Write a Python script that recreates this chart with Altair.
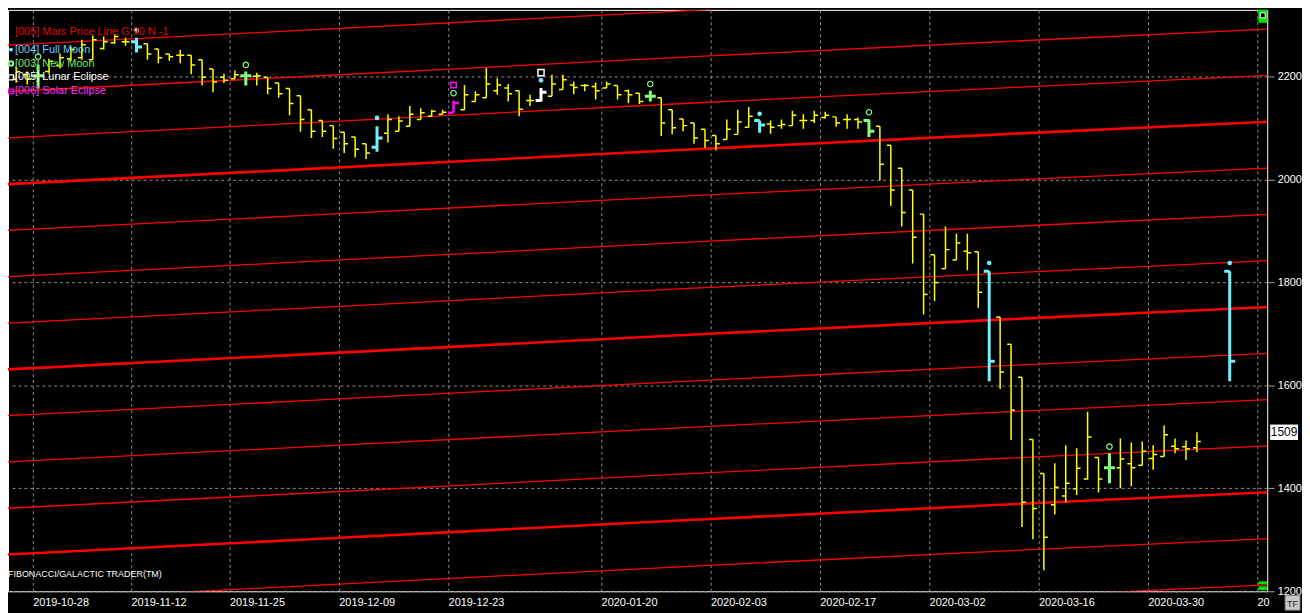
import altair as alt
import pandas as pd

# ---------------- data ----------------
# bar slot index (one slot per trading bar); 112 is the projected full-moon bar
bar_n = list(range(110)) + [112]
opens = [2193, 2195, 2204, 2202, 2210, 2222, 2235, 2237, 2233, 2255,
         2266, 2268, 2268, 2264, 2254, 2244, 2242, 2242, 2233, 2215,
         2199, 2196, 2202, 2201, 2199, 2188, 2177, 2163, 2136, 2115,
         2105, 2092, 2083, 2070, 2063, 2090, 2094, 2104, 2117, 2123,
         2127, 2130, 2136, 2152, 2159, 2173, 2178, 2173, 2154, 2154,
         2162, 2175, 2184, 2183, 2181, 2178, 2183, 2173, 2168, 2162,
         2159, 2136, 2118, 2110, 2098, 2086, 2078, 2088, 2102, 2115,
         2108, 2105, 2105, 2115, 2115, 2121, 2122, 2117, 2117, 2115,
         2104, 2067, 2022, 1980, 1933, 1854, 1827, 1844, 1861, 1860,
         1822, 1733, 1680, 1616, 1495, 1429, 1368, 1385, 1399, 1418,
         1460, 1440, 1440, 1448, 1445, 1458, 1462, 1482, 1481, 1479,
         1822]
highs = [2206, 2220, 2210, 2224, 2235, 2245, 2258, 2272, 2280, 2278,
         2282, 2276, 2276, 2264, 2254, 2244, 2252, 2242, 2233, 2215,
         2206, 2212, 2210, 2208, 2199, 2188, 2177, 2163, 2136, 2115,
         2105, 2092, 2083, 2070, 2104, 2127, 2123, 2143, 2139, 2136,
         2136, 2154, 2184, 2172, 2217, 2197, 2186, 2173, 2165, 2178,
         2204, 2204, 2191, 2186, 2189, 2191, 2183, 2175, 2168, 2173,
         2159, 2136, 2118, 2110, 2098, 2086, 2117, 2136, 2141, 2115,
         2115, 2117, 2134, 2127, 2134, 2132, 2122, 2127, 2121, 2117,
         2104, 2067, 2022, 1980, 1933, 1854, 1909, 1895, 1895, 1860,
         1822, 1733, 1680, 1616, 1495, 1429, 1449, 1484, 1478, 1549,
         1460, 1468, 1497, 1489, 1491, 1484, 1522, 1497, 1493, 1509,
         1822]
lows = [2187, 2189, 2185, 2177, 2206, 2216, 2230, 2233, 2233, 2253,
        2264, 2260, 2247, 2233, 2226, 2231, 2226, 2205, 2183, 2170,
        2188, 2196, 2183, 2183, 2166, 2159, 2125, 2093, 2081, 2083,
        2060, 2052, 2043, 2040, 2054, 2072, 2094, 2104, 2117, 2123,
        2127, 2130, 2136, 2152, 2159, 2165, 2152, 2123, 2143, 2152,
        2162, 2175, 2166, 2172, 2156, 2178, 2156, 2149, 2147, 2152,
        2085, 2088, 2094, 2070, 2062, 2057, 2078, 2088, 2102, 2091,
        2089, 2099, 2105, 2099, 2110, 2119, 2103, 2099, 2099, 2083,
        1999, 1949, 1909, 1837, 1738, 1764, 1827, 1844, 1824, 1751,
        1608, 1593, 1494, 1325, 1301, 1241, 1349, 1373, 1387, 1417,
        1392, 1410, 1400, 1404, 1445, 1436, 1462, 1468, 1455, 1470,
        1608]
closes = [2202, 2210, 2195, 2202, 2230, 2237, 2253, 2262, 2272, 2268,
          2278, 2268, 2258, 2244, 2237, 2239, 2242, 2223, 2199, 2190,
          2193, 2204, 2202, 2202, 2177, 2167, 2148, 2117, 2094, 2094,
          2080, 2070, 2059, 2052, 2081, 2117, 2114, 2127, 2130, 2133,
          2131, 2149, 2165, 2165, 2186, 2184, 2167, 2137, 2154, 2170,
          2186, 2194, 2179, 2183, 2173, 2186, 2165, 2165, 2152, 2162,
          2110, 2101, 2105, 2081, 2076, 2070, 2098, 2112, 2123, 2106,
          2102, 2107, 2125, 2115, 2125, 2125, 2110, 2117, 2112, 2094,
          2030, 1980, 1936, 1888, 1777, 1800, 1864, 1877, 1858, 1781,
          1647, 1626, 1552, 1373, 1361, 1305, 1402, 1410, 1439, 1500,
          1418, 1440, 1457, 1440, 1472, 1466, 1504, 1477, 1477, 1491,
          1647]

full_moon_n = [12, 34, 49, 69, 90, 112]
full_moon_dot = [2290, 2120, 2193, 2128, 1838, 1838]
new_moon_n = [3, 22, 41, 59, 79, 101]
new_moon_ring = [2239, 2223, 2168, 2186, 2131, 1481]
lunar_eclipse_n = [49]
lunar_eclipse_mark = [2208]
solar_eclipse_n = [41]
solar_eclipse_mark = [2184]

# Mars price line (G 90): base line read at a few slots, harmonics every 90 points
mars_n = [-1, 27, 63, 91, 117]
mars_base = [1990, 2020, 2059, 2088, 2114]
mars_harmonics = list(range(-10, 4))

# axis tick labels
x_tick_pos = [2.5, 11.5, 20.5, 30.5, 40.5, 54.5, 64.5, 74.5, 84.5, 94.5, 104.5, 114.5]
x_tick_lab = ["2019-10-28", "2019-11-12", "2019-11-25", "2019-12-09", "2019-12-23",
              "2020-01-20", "2020-02-03", "2020-02-17", "2020-03-02", "2020-03-16",
              "2020-03-30", "20"]
y_ticks = [1200, 1400, 1600, 1800, 2000, 2200]
last_price = [1509]

legend_labels = ["[005] Mars Price Line G 90 N -1", "[004] Full Moon", "[003] New Moon",
                 "[005] Lunar Eclipse", "[006] Solar Eclipse"]
legend_colors = ["#e00000", "#66d4ff", "#6ee66e", "#ffffff", "#ff33ff"]
legend_rows_y = [22, 40, 54, 68, 82]

# ---------------- styling ----------------
YELLOW, CYAN, GREEN, MAGENTA, WHITE = "#ffff00", "#6ff0ff", "#80ff80", "#ff00ff", "#ffffff"
FONT = "Liberation Sans"
W, H = 1267, 585

rows = []
for i, n in enumerate(bar_n):
    if n in lunar_eclipse_n:
        col, w, t = WHITE, 3.0, 0.5
    elif n in solar_eclipse_n:
        col, w, t = MAGENTA, 2.5, 0.5
    elif n in full_moon_n:
        col, w, t = CYAN, 3.0, 0.5
    elif n in new_moon_n:
        col, w, t = GREEN, 3.0, 0.5
    else:
        col, w, t = YELLOW, 1.5, 0.36
    rows.append(dict(n=n, open=opens[i], high=highs[i], low=lows[i], close=closes[i],
                     color=col, w=w, xo=n - t, xc=n + t))
bars = pd.DataFrame(rows)

mrows = []
for k in mars_harmonics:
    for n, b in zip(mars_n, mars_base):
        mrows.append(dict(n=n, price=b + 90 * k, k=k, w=2.6 if k % 4 == 0 else 1.3))
mars = pd.DataFrame(mrows)

xs = alt.Scale(domain=[0.245, 115.43], nice=False, zero=False)
ys = alt.Scale(domain=[1200, 2330], nice=False, zero=False)

label_expr = "[" + ",".join("'%s'" % s for s in x_tick_lab) + "][indexof([" + \
    ",".join(str(v) for v in x_tick_pos) + "], datum.value)]"

xaxis = alt.Axis(values=x_tick_pos, labelExpr=label_expr, grid=True, gridColor="#8c8c8c",
                 gridDash=[3, 3], gridWidth=1, ticks=False, domain=False, labelColor="white",
                 labelAlign="left", labelFlush=False, labelFont=FONT, labelFontSize=11,
                 labelPadding=5, labelOverlap=False, title=None)
yaxis = alt.Axis(orient="right", values=y_ticks, grid=True, gridColor="#8c8c8c",
                 gridDash=[3, 3], gridWidth=1, tickColor="#a0a0a0", tickSize=7,
                 domain=False, labelColor="white", labelFont=FONT, labelFontSize=11,
                 labelPadding=3, labelOverlap=False, labelFlush=False, title=None, format="d")


def X(f):
    return alt.X(f, type="quantitative", scale=xs, axis=xaxis)


def Y(f):
    return alt.Y(f, type="quantitative", scale=ys, axis=yaxis)


mars_layer = alt.Chart(mars).mark_line(clip=True, color="#ff0000").encode(
    x=X("n"), y=Y("price"), detail="k:N",
    strokeWidth=alt.StrokeWidth("w:Q", scale=None))

base = alt.Chart(bars)
hl = base.mark_rule(clip=True).encode(
    x=X("n"), y=Y("low"), y2="high",
    color=alt.Color("color:N", scale=None), strokeWidth=alt.StrokeWidth("w:Q", scale=None))
op = base.mark_rule(clip=True).encode(
    x=X("xo"), x2="n", y=Y("open"),
    color=alt.Color("color:N", scale=None), strokeWidth=alt.StrokeWidth("w:Q", scale=None))
cl = base.mark_rule(clip=True).encode(
    x=X("n"), x2="xc", y=Y("close"),
    color=alt.Color("color:N", scale=None), strokeWidth=alt.StrokeWidth("w:Q", scale=None))

fm = alt.Chart(pd.DataFrame(dict(n=full_moon_n, p=full_moon_dot))).mark_point(
    shape="circle", filled=True, size=22, color=CYAN, opacity=1, clip=True).encode(x=X("n"), y=Y("p"))
nm = alt.Chart(pd.DataFrame(dict(n=new_moon_n, p=new_moon_ring))).mark_point(
    shape="circle", filled=False, size=30, color=GREEN, strokeWidth=1.2, opacity=1, clip=True).encode(x=X("n"), y=Y("p"))
le = alt.Chart(pd.DataFrame(dict(n=lunar_eclipse_n, p=lunar_eclipse_mark))).mark_point(
    shape="square", filled=False, size=38, color=WHITE, strokeWidth=1.5, opacity=1, clip=True).encode(x=X("n"), y=Y("p"))
se = alt.Chart(pd.DataFrame(dict(n=solar_eclipse_n, p=solar_eclipse_mark))).mark_point(
    shape="square", filled=False, size=30, color=MAGENTA, strokeWidth=1.5, opacity=1, clip=True).encode(x=X("n"), y=Y("p"))

# legend (top-left)
leg = pd.DataFrame(dict(label=legend_labels, color=legend_colors, py=legend_rows_y))
leg_text = alt.Chart(leg).mark_text(align="left", baseline="middle", font=FONT, fontSize=11).encode(
    x=alt.value(7), y=alt.Y("py:Q", scale=None),
    text="label:N", color=alt.Color("color:N", scale=None))
leg_fm = alt.Chart(leg.iloc[[1]]).mark_point(shape="circle", filled=True, size=16, color=CYAN, opacity=1).encode(
    x=alt.value(3), y=alt.Y("py:Q", scale=None))
leg_nm = alt.Chart(leg.iloc[[2]]).mark_point(shape="circle", filled=False, size=20, color=GREEN, opacity=1).encode(
    x=alt.value(3), y=alt.Y("py:Q", scale=None))
leg_le = alt.Chart(leg.iloc[[3]]).mark_point(shape="square", filled=False, size=26, color=WHITE, strokeWidth=1.3, opacity=1).encode(
    x=alt.value(3), y=alt.Y("py:Q", scale=None))
leg_se = alt.Chart(leg.iloc[[4]]).mark_point(shape="square", filled=False, size=22, color=MAGENTA, strokeWidth=1.3, opacity=1).encode(
    x=alt.value(3), y=alt.Y("py:Q", scale=None))

brand = alt.Chart(pd.DataFrame(dict(t=["FIBONACCI/GALACTIC TRADER(TM)"]))).mark_text(
    align="left", baseline="middle", font=FONT, fontSize=9, color="white").encode(
    x=alt.value(0), y=alt.value(568), text="t:N")

lp = pd.DataFrame(dict(p=last_price))
lp_box = alt.Chart(lp).transform_calculate(lo="datum.p - 15", hi="datum.p + 15").mark_rect(
    color="white").encode(x=alt.value(W + 3), x2=alt.value(W + 31), y=Y("lo:Q"), y2="hi:Q")
lp_txt = alt.Chart(lp).mark_text(align="center", baseline="middle", font=FONT, fontSize=12,
                                 color="black").encode(
    x=alt.value(W + 17), y=Y("p"), text=alt.Text("p:Q", format="d"))

# platform widgets (green corner boxes, TF button)
widgets = pd.DataFrame(dict(x=[W - 9, W - 9, W - 9], x2=[W, W, W],
                            y=[0, 575, 580], y2=[13, 578, 584]))
wid = alt.Chart(widgets).mark_rect(color="#00e000").encode(
    x=alt.X("x:Q", scale=None), x2="x2", y=alt.Y("y:Q", scale=None), y2="y2")
wid_icon = alt.Chart(pd.DataFrame(dict(a=[0]))).mark_rect(
    color="black", stroke="white", strokeWidth=1).encode(
    x=alt.value(W - 7), x2=alt.value(W - 2), y=alt.value(3), y2=alt.value(8))
tf_box = alt.Chart(pd.DataFrame(dict(a=[0]))).mark_rect(
    color="#c8c8c8", stroke="#808080").encode(
    x=alt.value(W + 18), x2=alt.value(W + 33), y=alt.value(589), y2=alt.value(604))
tf_txt = alt.Chart(pd.DataFrame(dict(t=["TF"]))).mark_text(
    align="center", baseline="middle", font=FONT, fontSize=9, color="#202020").encode(
    x=alt.value(W + 25.5), y=alt.value(597.5), text="t:N")

chart = alt.layer(mars_layer, hl, op, cl, fm, nm, le, se,
                  leg_text, leg_fm, leg_nm, leg_le, leg_se, brand, lp_box, lp_txt,
                  wid, wid_icon, tf_box, tf_txt).properties(
    width=W, height=H, background="black",
    autosize=alt.AutoSizeParams(type="none"),
    padding={"left": 0, "top": 0, "right": 35, "bottom": 20},
).configure_view(stroke="white", strokeWidth=1)

chart.save("out.html", embed_options={"renderer": "svg", "actions": False})
